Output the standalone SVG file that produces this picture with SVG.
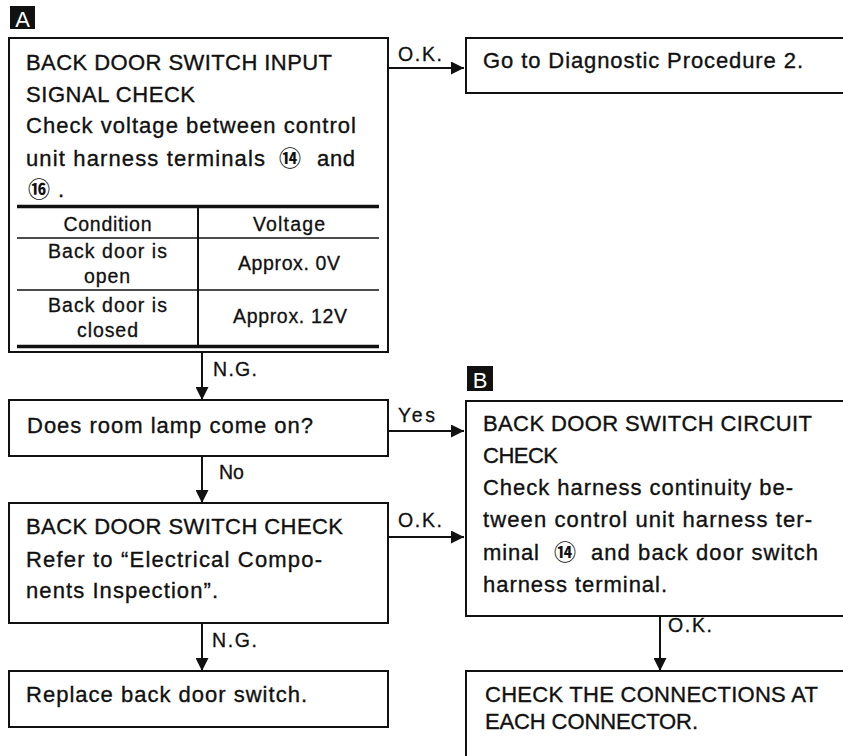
<svg xmlns="http://www.w3.org/2000/svg" width="843" height="756" viewBox="0 0 843 756">
<defs>
<style>
.box{fill:#fff;stroke:#111;stroke-width:2}
.t{font-family:"Liberation Sans",Arial,sans-serif;font-size:22px;fill:#111;stroke:#111;stroke-width:0.35}
.tc{font-family:"Liberation Sans",Arial,sans-serif;font-size:19.5px;fill:#111;stroke:#111;stroke-width:0.3;text-anchor:middle}
.lbl{font-family:"Liberation Sans",Arial,sans-serif;font-size:19.5px;fill:#111;stroke:#111;stroke-width:0.3}
.circ{font-family:"Noto Sans CJK JP","DejaVu Sans",sans-serif;font-size:22px;font-weight:bold;fill:#111;stroke:none}
.tag{fill:#111}
.tagt{font-family:"Liberation Sans",Arial,sans-serif;font-size:22px;fill:#fff;text-anchor:middle}
.conn{stroke:#111;stroke-width:2;fill:none}
.thick{stroke:#111;stroke-width:3.5}
.thin{stroke:#111;stroke-width:1.5}
</style>
<marker id="arr" markerUnits="userSpaceOnUse" markerWidth="13" markerHeight="13" viewBox="0 0 13 13" refX="13" refY="6.5" orient="auto">
<path d="M0,0 L13,6.5 L0,13 Z" fill="#111"/>
</marker>
</defs>
<rect width="843" height="756" fill="#fff"/>

<g id="tagA">
<rect class="tag" x="10" y="6" width="25" height="23"/>
<text class="tagt" x="22.5" y="27">A</text>
</g>
<g id="tagB">
<rect class="tag" x="467" y="366" width="26" height="25"/>
<text class="tagt" x="480" y="388">B</text>
</g>

<g id="nodeA">
<rect class="box" x="9" y="38" width="379" height="314"/>
<text class="t" x="26" y="70" textLength="306" lengthAdjust="spacing">BACK DOOR SWITCH INPUT</text>
<text class="t" x="26" y="102" textLength="169" lengthAdjust="spacing">SIGNAL CHECK</text>
<text class="t" x="26" y="133" textLength="330" lengthAdjust="spacing">Check voltage between control</text>
<text class="t" x="26" y="166"><tspan x="26" textLength="239" lengthAdjust="spacing">unit harness terminals</tspan><tspan class="circ" x="279">⑭</tspan><tspan x="317" textLength="38" lengthAdjust="spacing">and</tspan></text>
<text class="t" x="26" y="197"><tspan class="circ" x="28">⑯</tspan><tspan x="58">.</tspan></text>
<line class="thick" x1="17" y1="206.5" x2="379" y2="206.5"/>
<line class="thin" x1="17" y1="238" x2="379" y2="238"/>
<line class="thin" x1="17" y1="290" x2="379" y2="290"/>
<line class="thick" x1="17" y1="346.5" x2="379" y2="346.5"/>
<line class="conn" x1="198" y1="207" x2="198" y2="346"/>
<text class="tc" x="107.5" y="231" textLength="88" lengthAdjust="spacing">Condition</text>
<text class="tc" x="289" y="231" textLength="72" lengthAdjust="spacing">Voltage</text>
<text class="tc" x="107.5" y="258" textLength="119" lengthAdjust="spacing">Back door is</text>
<text class="tc" x="107" y="283" textLength="46" lengthAdjust="spacing">open</text>
<text class="tc" x="289" y="270" textLength="102" lengthAdjust="spacing">Approx. 0V</text>
<text class="tc" x="107.5" y="312" textLength="119" lengthAdjust="spacing">Back door is</text>
<text class="tc" x="107.5" y="337" textLength="61" lengthAdjust="spacing">closed</text>
<text class="tc" x="290" y="323" textLength="114" lengthAdjust="spacing">Approx. 12V</text>
</g>

<g id="nodeGo">
<rect class="box" x="466" y="38" width="390" height="55"/>
<text class="t" x="483" y="68" textLength="320" lengthAdjust="spacing">Go to Diagnostic Procedure 2.</text>
</g>

<g id="nodeLamp">
<rect class="box" x="9" y="400" width="379" height="56"/>
<text class="t" x="27" y="433" textLength="286" lengthAdjust="spacing">Does room lamp come on?</text>
</g>

<g id="nodeB">
<rect class="box" x="466" y="401" width="390" height="215"/>
<text class="t" x="483" y="431" textLength="329" lengthAdjust="spacing">BACK DOOR SWITCH CIRCUIT</text>
<text class="t" x="483" y="463" textLength="75" lengthAdjust="spacing">CHECK</text>
<text class="t" x="483" y="495" textLength="310" lengthAdjust="spacing">Check harness continuity be-</text>
<text class="t" x="483" y="527" textLength="329" lengthAdjust="spacing">tween control unit harness ter-</text>
<text class="t" x="483" y="560"><tspan x="483" textLength="56" lengthAdjust="spacing">minal</tspan><tspan class="circ" x="554">⑭</tspan><tspan x="591" textLength="227" lengthAdjust="spacing">and back door switch</tspan></text>
<text class="t" x="483" y="592" textLength="184" lengthAdjust="spacing">harness terminal.</text>
</g>

<g id="nodeSwitch">
<rect class="box" x="9" y="503" width="379" height="120"/>
<text class="t" x="26" y="534" textLength="317" lengthAdjust="spacing">BACK DOOR SWITCH CHECK</text>
<text class="t" x="26" y="567" textLength="296" lengthAdjust="spacing">Refer to “Electrical Compo-</text>
<text class="t" x="26" y="598" textLength="192" lengthAdjust="spacing">nents Inspection”.</text>
</g>

<g id="nodeReplace">
<rect class="box" x="9" y="671" width="379" height="56"/>
<text class="t" x="26" y="702" textLength="281" lengthAdjust="spacing">Replace back door switch.</text>
</g>

<g id="nodeConn">
<rect class="box" x="466" y="671" width="390" height="100"/>
<text class="t" x="485" y="702" textLength="333" lengthAdjust="spacing">CHECK THE CONNECTIONS AT</text>
<text class="t" x="485" y="729" textLength="213" lengthAdjust="spacing">EACH CONNECTOR.</text>
</g>

<g id="connectors">
<line class="conn" x1="388" y1="68" x2="464" y2="68" marker-end="url(#arr)"/>
<text class="lbl" x="398" y="61" textLength="44" lengthAdjust="spacing">O.K.</text>
<line class="conn" x1="202" y1="352" x2="202" y2="400" marker-end="url(#arr)"/>
<text class="lbl" x="213" y="376" textLength="44" lengthAdjust="spacing">N.G.</text>
<line class="conn" x1="388" y1="431" x2="464" y2="431" marker-end="url(#arr)"/>
<text class="lbl" x="398" y="422" textLength="37" lengthAdjust="spacing">Yes</text>
<line class="conn" x1="202" y1="456" x2="202" y2="503" marker-end="url(#arr)"/>
<text class="lbl" x="219" y="479">No</text>
<line class="conn" x1="388" y1="537" x2="464" y2="537" marker-end="url(#arr)"/>
<text class="lbl" x="398" y="527" textLength="44" lengthAdjust="spacing">O.K.</text>
<line class="conn" x1="202" y1="623" x2="202" y2="671" marker-end="url(#arr)"/>
<text class="lbl" x="212" y="647" textLength="45" lengthAdjust="spacing">N.G.</text>
<line class="conn" x1="660" y1="616" x2="660" y2="671" marker-end="url(#arr)"/>
<text class="lbl" x="668" y="632" textLength="44" lengthAdjust="spacing">O.K.</text>
</g>
</svg>
